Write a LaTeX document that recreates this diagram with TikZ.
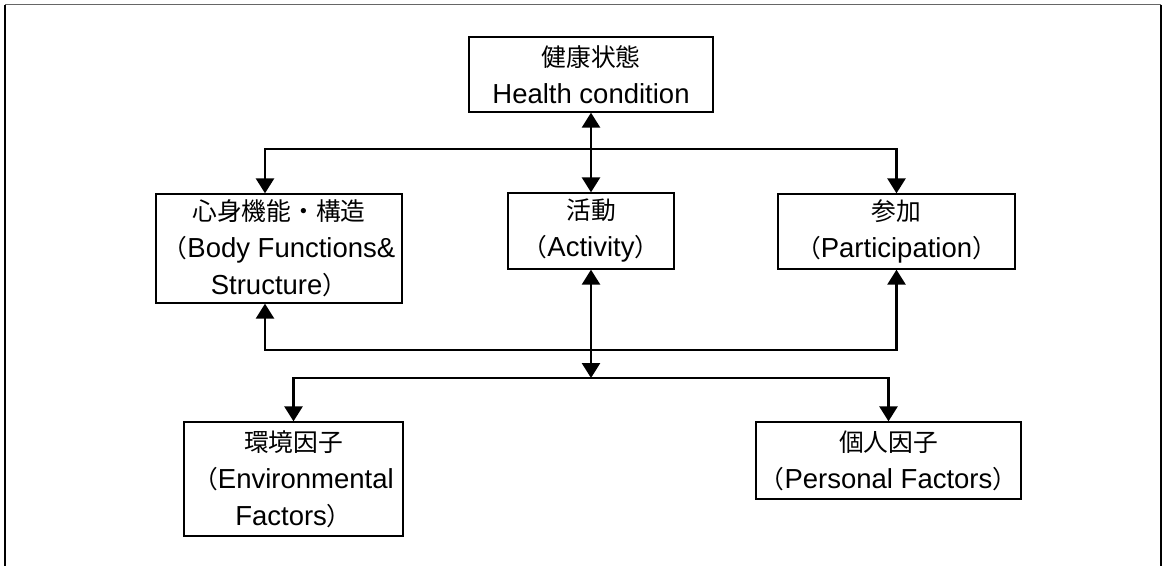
\documentclass[tikz,border=0pt]{standalone}
\usepackage{fontspec}
\usepackage{tikz}
\usetikzlibrary{arrows.meta}
\setmainfont{Liberation Sans}
\newfontfamily\jp[Scale=0.9]{Noto Sans CJK JP}
\def\jlp{{\jp （}}
\def\jrp{{\jp ）}}

\begin{document}
\begin{tikzpicture}[x=1pt, y=-1pt,
    box/.style={draw, line width=1.3pt, align=center, inner sep=0pt,
        font=\fontsize{27.5}{37}\selectfont},
    link/.style={line width=2.6pt},
    >={Triangle[length=15pt, width=18pt]}]
            \useasboundingbox (0,0) rectangle (1163,566);

            % frame
            \draw[line width=1.6pt, black!60] (5,4.5) -- (1161,4.5);
            \draw[line width=1.6pt] (5,4.5) -- (5,566);
            \draw[line width=1.6pt] (1161,4.5) -- (1161,566);

            \node[box, minimum width=244, minimum height=75] (health) at (591, 74.5) {{\jp 健康状態}\\Health condition};
            \node[box, minimum width=246, minimum height=109] (body) at (279, 248.5) {{\jp 心身機能・構造}\\\jlp Body Functions\&\\Structure\jrp};
            \node[box, minimum width=166, minimum height=76] (act) at (591, 231) {{\jp 活動}\\\jlp Activity\jrp};
            \node[box, minimum width=237, minimum height=75] (part) at (896.5, 231.5) {{\jp 参加}\\\jlp Participation\jrp};
            \node[box, minimum width=219, minimum height=114] (env) at (293.5, 479) {{\jp 環境因子}\\\jlp Environmental\\Factors\jrp};
            \node[box, minimum width=265, minimum height=77] (pers) at (888.5, 460.5) {{\jp 個人因子}\\\jlp Personal Factors\jrp};

            \coordinate (upper) at (591, 149);
            \coordinate (middle) at (591, 350);
            \coordinate (lower) at (591, 378);

            \draw[link, <->] (health) -- (act);
            \draw[link, ->] (upper) -| ([xshift=-14pt]body.north);
            \draw[link, ->] (upper) -| (part.north);

            \draw[link, <->] (act) -- (lower);
            \draw[link, ->] (middle) -| ([xshift=-14pt]body.south);
            \draw[link, ->] (middle) -| (part.south);
            \draw[link, ->] (lower) -| (env.north);
            \draw[link, ->] (lower) -| (pers.north);
        \end{tikzpicture}
\end{document}
